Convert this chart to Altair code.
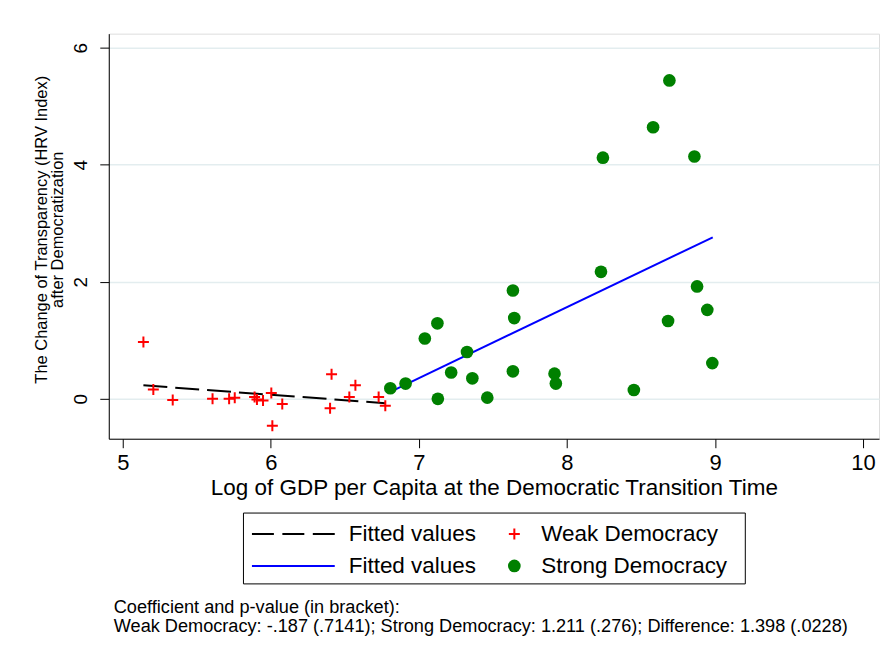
import altair as alt
import pandas as pd

# ---------------- data ----------------
weak_x = [5.139, 5.206, 5.337, 5.606, 5.718, 5.756, 5.890, 5.906, 5.947, 6.003,
          6.077, 6.010, 6.410, 6.400, 6.530, 6.571, 6.728, 6.773]
weak_y = [0.97, 0.16, -0.02, 0.00, 0.00, 0.02, 0.03, -0.01, -0.03, 0.10,
          -0.09, -0.46, 0.42, -0.16, 0.03, 0.23, 0.03, -0.12]

strong_x = [6.807, 6.910, 7.040, 7.125, 7.128, 7.218, 7.325, 7.361, 7.462, 7.635,
            7.644, 7.635, 7.916, 7.925, 8.230, 8.243, 8.452, 8.582, 8.692, 8.683,
            8.861, 8.879, 8.948, 8.982]
strong_y = [0.18, 0.26, 1.03, 1.29, -0.00, 0.45, 0.80, 0.35, 0.02, 1.85,
            1.38, 0.47, 0.43, 0.26, 2.17, 4.12, 0.15, 4.64, 5.44, 1.33,
            4.14, 1.92, 1.52, 0.61]

weak_fit_x = [5.139, 6.773]
weak_fit_y = [0.23, -0.075]
strong_fit_x = [6.807, 8.985]
strong_fit_y = [0.12, 2.76]

x_ticks = [5, 6, 7, 8, 9, 10]
y_ticks = [0, 2, 4, 6]

x_title = "Log of GDP per Capita at the Democratic Transition Time"
y_title = ["The Change of Transparency (HRV Index)", "after Democratization"]
legend_labels = ["Fitted values", "Weak Democracy", "Fitted values", "Strong Democracy"]
note_lines = [
    "Coefficient and p-value (in bracket):",
    "Weak Democracy: -.187 (.7141); Strong Democracy: 1.211 (.276); Difference: 1.398 (.0228)",
]

# ---------------- styling ----------------
FONT = "Liberation Sans, Arial, sans-serif"
RED = "#ff0000"
GREEN = "#008000"
BLUE = "#0000ff"
PLUS = "M-1,0H1M0,-1V1"

W, H = 772, 406

xs = alt.Scale(domain=[4.905, 10.108], nice=False, zero=False)
ys = alt.Scale(domain=[-0.682, 6.239], nice=False, zero=False)

x_axis = alt.Axis(
    values=x_ticks, title=x_title, grid=False, format="d",
    domainColor="black", domainWidth=1, tickColor="black", tickWidth=1, tickSize=9,
    labelFont=FONT, labelFontSize=22, labelColor="black", labelPadding=5,
    titleFont=FONT, titleFontSize=22.5, titleFontWeight="normal", titleColor="black",
    titlePadding=3,
)
y_axis = alt.Axis(
    values=y_ticks, title=y_title, grid=True, gridColor="#e3edef", gridWidth=1.5,
    format="d",
    domainColor="black", domainWidth=1, tickColor="black", tickWidth=1, tickSize=9,
    labelFont=FONT, labelFontSize=19, labelColor="black", labelAngle=270,
    labelAlign="center", labelBaseline="alphabetic", labelPadding=13,
    titleFont=FONT, titleFontSize=16.5, titleFontWeight="normal", titleColor="black",
    titlePadding=6, titleLineHeight=16, titleY=196,
)

weak_df = pd.DataFrame({"x": weak_x, "y": weak_y})
strong_df = pd.DataFrame({"x": strong_x, "y": strong_y})
weak_fit_df = pd.DataFrame({"x": weak_fit_x, "y": weak_fit_y})
strong_fit_df = pd.DataFrame({"x": strong_fit_x, "y": strong_fit_y})

enc = dict(
    x=alt.X("x:Q", scale=xs, axis=x_axis),
    y=alt.Y("y:Q", scale=ys, axis=y_axis),
)

weak_fit = alt.Chart(weak_fit_df).mark_line(
    color="black", strokeWidth=2, strokeDash=[24, 8]
).encode(**enc)
weak_pts = alt.Chart(weak_df).mark_point(
    shape=PLUS, filled=False, color=RED, strokeWidth=2, size=121, opacity=1
).encode(**enc)
strong_fit = alt.Chart(strong_fit_df).mark_line(
    color=BLUE, strokeWidth=2
).encode(**enc)
strong_pts = alt.Chart(strong_df).mark_point(
    shape="circle", filled=True, color=GREEN, size=161, opacity=1, strokeWidth=0
).encode(**enc)

main = alt.layer(weak_fit, weak_pts, strong_fit, strong_pts).properties(width=W, height=H)

# ---------------- manual legend panel ----------------
leg_df = pd.DataFrame({"item": list(range(len(legend_labels))), "label": legend_labels})
LW, LH = 503, 71
ROW_Y = [21.5, 53.5]
lbase = alt.Chart(leg_df)


def pick(i):
    return lbase.transform_filter(alt.datum.item == i)


leg_layers = [
    pick(0).mark_rule(color="black", strokeWidth=2, strokeDash=[22, 8.5]).encode(
        x=alt.value(9), x2=alt.value(92), y=alt.value(ROW_Y[0])),
    pick(2).mark_rule(color=BLUE, strokeWidth=2).encode(
        x=alt.value(9), x2=alt.value(92), y=alt.value(ROW_Y[1])),
    pick(1).mark_point(shape=PLUS, filled=False, color=RED, strokeWidth=2, size=121, opacity=1).encode(
        x=alt.value(272), y=alt.value(ROW_Y[0])),
    pick(3).mark_point(shape="circle", filled=True, color=GREEN, size=161, opacity=1, strokeWidth=0).encode(
        x=alt.value(272), y=alt.value(ROW_Y[1])),
]
text_pos = {0: (106, ROW_Y[0]), 1: (299, ROW_Y[0]), 2: (106, ROW_Y[1]), 3: (299, ROW_Y[1])}
for i, (tx, ty) in text_pos.items():
    leg_layers.append(
        pick(i).mark_text(align="left", baseline="middle", font=FONT, fontSize=22.5, color="black").encode(
            x=alt.value(tx), y=alt.value(ty), text="label:N")
    )

legend = alt.layer(*leg_layers).properties(
    width=LW, height=LH, view=alt.ViewBackground(stroke="black", strokeWidth=1)
)

chart = alt.vconcat(main, legend, spacing=74, center=True, bounds="flush").properties(
    padding={"left": 25, "top": 24, "right": 0, "bottom": 0},
    title=alt.TitleParams(
        text=note_lines, orient="bottom", anchor="start", frame="group",
        font=FONT, fontSize=18.2, fontWeight="normal", color="black",
        lineHeight=19, offset=15, dx=5,
    ),
).configure_view(strokeWidth=0).configure(background="white")

chart.save("out.html", embed_options={"renderer": "svg", "actions": False})
